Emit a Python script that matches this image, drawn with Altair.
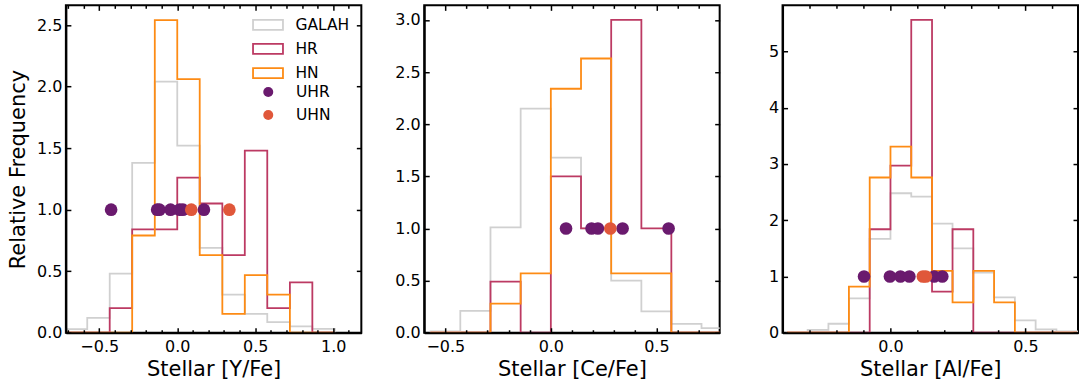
import altair as alt
import pandas as pd

FONT = "DejaVu Sans"

# ---------------- data ----------------
series_hist = ["GALAH", "HR", "HN"]
series_pts = ["UHR", "UHN"]
hist_colors = ["#d0d0d0", "#bc3a63", "#fd8b14"]
pts_colors = ["#6a1a6e", "#e0573a"]

# Panel 1: Stellar [Y/Fe]
y_edges = [-0.722, -0.577, -0.433, -0.289, -0.144, 0.0, 0.144, 0.289, 0.433, 0.577, 0.722, 0.866, 1.010]
y_galah = [0.03, 0.12, 0.48, 1.38, 2.04, 1.52, 0.69, 0.31, 0.154, 0.087, 0.052, 0.032]
y_hr = [0.0, 0.0, 0.20, 0.84, 0.84, 1.26, 1.05, 0.63, 1.48, 0.20, 0.41, 0.0]
y_hn = [0.0, 0.0, 0.0, 0.79, 2.54, 2.06, 0.63, 0.154, 0.468, 0.31, 0.0, 0.0]
y_uhr = [-0.424, -0.129, -0.114, -0.043, 0.015, 0.036, 0.171]
y_uhn = [0.090, 0.334]

# Panel 2: Stellar [Ce/Fe]
ce_edges = [-0.571, -0.429, -0.286, -0.143, 0.0, 0.143, 0.286, 0.429, 0.571, 0.714, 0.857]
ce_galah = [0.013, 0.21, 1.01, 2.15, 1.68, 1.0, 0.50, 0.205, 0.086, 0.045]
ce_hr = [0.0, 0.0, 0.49, 0.0, 1.50, 1.0, 3.0, 1.0, 0.0, 0.0]
ce_hn = [0.0, 0.0, 0.28, 0.57, 2.34, 2.63, 0.57, 0.57, 0.0, 0.0]
ce_uhr = [0.072, 0.193, 0.223, 0.340, 0.558]
ce_uhn = [0.282]

# Panel 3: Stellar [Al/Fe]
al_edges = [-0.384, -0.307, -0.230, -0.154, -0.077, 0.0, 0.077, 0.154, 0.230, 0.307, 0.384, 0.461, 0.538, 0.615, 0.692]
al_galah = [0.012, 0.05, 0.16, 0.61, 1.67, 2.48, 2.42, 1.94, 1.50, 1.07, 0.63, 0.22, 0.06, 0.022]
al_hr = [0.0, 0.0, 0.0, 0.0, 1.84, 2.97, 5.56, 0.73, 1.84, 0.0, 0.0, 0.0, 0.0, 0.0]
al_hn = [0.0, 0.0, 0.0, 0.82, 2.76, 3.31, 2.76, 1.10, 0.54, 1.10, 0.54, 0.0, 0.0, 0.0]
al_uhr = [-0.098, -0.002, 0.037, 0.070, 0.162, 0.192]
al_uhn = [0.120, 0.131]

point_level = 1.0

# axis tick values
y_xmajor = [-0.5, 0.0, 0.5, 1.0]
y_xminor = [-0.7, -0.6, -0.4, -0.3, -0.2, -0.1, 0.1, 0.2, 0.3, 0.4, 0.6, 0.7, 0.8, 0.9, 1.1]
ce_xmajor = [-0.5, 0.0, 0.5]
ce_xminor = [-0.4, -0.3, -0.2, -0.1, 0.1, 0.2, 0.3, 0.4, 0.6, 0.7]
al_xmajor = [0.0, 0.5]
al_xminor = [-0.3, -0.2, -0.1, 0.1, 0.2, 0.3, 0.4, 0.6]
y_ymajor = [0.0, 0.5, 1.0, 1.5, 2.0, 2.5]
ce_ymajor = [0.0, 0.5, 1.0, 1.5, 2.0, 2.5, 3.0]
al_ymajor = [0, 1, 2, 3, 4, 5]

W, H = 296, 328
TICK_FS = 16
TITLE_FS = 21


def step_frame(edges, heights, name):
    pts = [(edges[0], 0.0)] + [(edges[i], heights[i]) for i in range(len(heights))] + [(edges[-1], 0.0)]
    return pd.DataFrame({"x": [p[0] for p in pts], "y": [p[1] for p in pts],
                         "series": name, "idx": list(range(len(pts)))})


def pts_frame(xs, name):
    return pd.DataFrame({"x": xs, "y": [point_level] * len(xs), "series": name})


def tick_axis(orient, values, size):
    return alt.Axis(orient=orient, values=values, offset=-size, tickSize=size, tickWidth=1.5,
                    tickColor="black", labels=False, domain=False, grid=False, title=None, zindex=1)


def panel(edges, galah, hr, hn, uhr, uhn, xdom, ydom, xmajor, xminor, ymajor, yfmt,
          xtitle, ytitle, show_legend):
    xs = alt.Scale(domain=xdom, nice=False, zero=False, padding=0)
    ys = alt.Scale(domain=ydom, nice=False, zero=False, padding=0)
    cscale = alt.Scale(domain=series_hist, range=hist_colors)
    fscale = alt.Scale(domain=series_pts, range=pts_colors)

    if show_legend:
        leg_c = alt.Legend(title=None, orient="none", legendX=194, legendY=11,
                           symbolType="M-2,-0.667H2V0.667H-2Z", symbolSize=225,
                           symbolStrokeWidth=1.8, symbolFillColor="transparent",
                           labelFont=FONT, labelFontSize=15.5, labelColor="black",
                           labelOffset=19, rowPadding=5.2, padding=0, symbolOffset=0)
        leg_f = alt.Legend(title=None, orient="none", legendX=195, legendY=79,
                           symbolType="circle", symbolSize=100, symbolStrokeWidth=0,
                           labelFont=FONT, labelFontSize=15.5, labelColor="black",
                           labelOffset=20, rowPadding=6.2, padding=0, symbolOffset=0)
    else:
        leg_c = None
        leg_f = None

    main_x = alt.Axis(orient="bottom", values=xmajor, format=".1f", ticks=False, domain=True,
                      domainColor="black", domainWidth=2, labelFont=FONT, labelFontSize=TICK_FS,
                      labelColor="black", labelPadding=6, labelFlush=False, labelOverlap=False,
                      title=xtitle, titleFont=FONT, titleFontSize=TITLE_FS, titleFontWeight="normal",
                      titleColor="black", titlePadding=4, grid=False, zindex=1)
    if ytitle:
        main_y = alt.Axis(orient="left", values=ymajor, format=yfmt, ticks=False, domain=True,
                          domainColor="black", domainWidth=2, labelFont=FONT, labelFontSize=TICK_FS,
                          labelColor="black", labelPadding=4, labelFlush=False, labelOverlap=False,
                          title=ytitle, titleFont=FONT, titleFontSize=TITLE_FS, titleFontWeight="normal",
                          titleColor="black", titlePadding=8, grid=False, zindex=1)
    else:
        main_y = alt.Axis(orient="left", values=ymajor, format=yfmt, ticks=False, domain=True,
                          domainColor="black", domainWidth=2, labelFont=FONT, labelFontSize=TICK_FS,
                          labelColor="black", labelPadding=4, labelFlush=False, labelOverlap=False,
                          title=None, grid=False, zindex=1)

    def line_layer(heights, name, xaxis, yaxis):
        return alt.Chart(step_frame(edges, heights, name)).mark_line(
            interpolate="step-after", strokeWidth=1.8, clip=True
        ).encode(
            x=alt.X("x:Q", scale=xs, axis=xaxis),
            y=alt.Y("y:Q", scale=ys, axis=yaxis),
            color=alt.Color("series:N", scale=cscale, legend=leg_c),
            order=alt.Order("idx:Q"),
        )

    def point_layer(xvals, name, xaxis):
        return alt.Chart(pts_frame(xvals, name)).mark_circle(size=161, opacity=1, clip=True).encode(
            x=alt.X("x:Q", scale=xs, axis=xaxis),
            y=alt.Y("y:Q", scale=ys, axis=None),
            fill=alt.Fill("series:N", scale=fscale, legend=leg_f),
        )

    layers = [
        line_layer(galah, "GALAH", main_x, main_y),
        line_layer(hr, "HR", tick_axis("bottom", xmajor, 5), tick_axis("left", ymajor, 5)),
        line_layer(hn, "HN", tick_axis("bottom", xminor, 3), tick_axis("right", ymajor, 5)),
        point_layer(uhr, "UHR", tick_axis("top", xmajor, 5)),
        point_layer(uhn, "UHN", tick_axis("top", xminor, 3)),
    ]
    return alt.layer(*layers).resolve_axis(x="independent", y="independent").properties(
        width=W, height=H)


p1 = panel(y_edges, y_galah, y_hr, y_hn, y_uhr, y_uhn, [-0.714, 1.18], [0, 2.66],
           y_xmajor, y_xminor, y_ymajor, ".1f", "Stellar [Y/Fe]", "Relative Frequency", True)
p2 = panel(ce_edges, ce_galah, ce_hr, ce_hn, ce_uhr, ce_uhn, [-0.6, 0.8], [0, 3.14],
           ce_xmajor, ce_xminor, ce_ymajor, ".1f", "Stellar [Ce/Fe]", None, False)
p3 = panel(al_edges, al_galah, al_hr, al_hn, al_uhr, al_uhn, [-0.4, 0.695], [0, 5.82],
           al_xmajor, al_xminor, al_ymajor, "d", "Stellar [Al/Fe]", None, False)

chart = alt.hconcat(p1, p2, p3, spacing=63, bounds="flush").resolve_scale(
    color="independent", fill="independent"
).resolve_legend(color="independent", fill="independent").properties(
    padding={"left": 6, "top": 3, "right": 1, "bottom": 4},
    background="white",
).configure_view(stroke="black", strokeWidth=2)

chart.save("out.html", embed_options={"renderer": "svg", "actions": False})
